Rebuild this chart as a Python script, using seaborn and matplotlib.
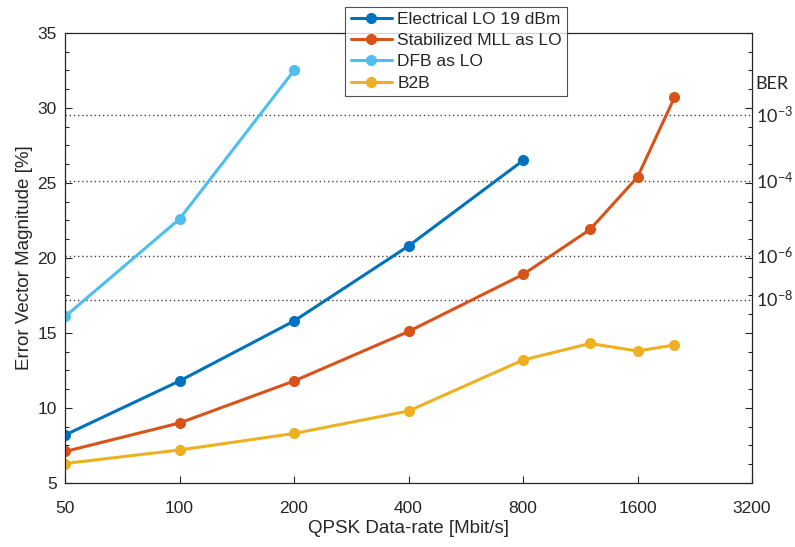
import numpy as np
import pandas as pd
import matplotlib
matplotlib.use("Agg")
import matplotlib.pyplot as plt
import matplotlib.ticker as mticker
import seaborn as sns

# Data
rate_short = [50, 100, 200, 400, 800]
rate_long = [50, 100, 200, 400, 800, 1200, 1600, 2000]
rate_dfb = [50, 100, 200]

evm_electrical = [8.2, 11.8, 15.8, 20.8, 26.5]
evm_mll = [7.1, 9.0, 11.8, 15.1, 18.9, 21.9, 25.4, 30.7]
evm_dfb = [16.1, 22.6, 32.5]
evm_b2b = [6.3, 7.2, 8.3, 9.8, 13.2, 14.3, 13.8, 14.2]

series_names = ["Electrical LO 19 dBm", "Stabilized MLL as LO", "DFB as LO", "B2B"]
colors = ["#0072BD", "#D95319", "#4DBEEE", "#EDB120"]

x_ticks = [50, 100, 200, 400, 800, 1600, 3200]

# BER thresholds (EVM value of each dotted line)
ber_evm = [29.5, 25.1, 20.1, 17.2]
ber_labels = [r"$\mathregular{10^{-3}}$", r"$\mathregular{10^{-4}}$",
              r"$\mathregular{10^{-6}}$", r"$\mathregular{10^{-8}}$"]


def main():
    rows = []
    for name, xs, ys in [
        (series_names[0], rate_short, evm_electrical),
        (series_names[1], rate_long, evm_mll),
        (series_names[2], rate_dfb, evm_dfb),
        (series_names[3], rate_long, evm_b2b),
    ]:
        for x, y in zip(xs, ys):
            rows.append({"rate": x, "evm": y, "series": name})
    df = pd.DataFrame(rows)

    sns.set_theme(style="ticks")
    plt.rcParams["font.family"] = ["Liberation Sans", "DejaVu Sans"]
    plt.rcParams["xtick.direction"] = "in"
    plt.rcParams["ytick.direction"] = "in"

    fig = plt.figure(figsize=(7.95, 5.47), dpi=100)
    ax = fig.add_axes([0.0818, 0.117, 0.8642, 0.8227])

    sns.lineplot(data=df, x="rate", y="evm", hue="series", hue_order=series_names,
                 palette=colors, marker="o", markersize=8, markeredgewidth=0,
                 linewidth=2.2, ax=ax, sort=False)

    ax.set_xscale("log", base=2)
    ax.set_xlim(50, 3200)
    ax.set_ylim(5, 35)
    ax.xaxis.set_major_locator(mticker.FixedLocator(x_ticks))
    ax.xaxis.set_major_formatter(mticker.FixedFormatter([str(t) for t in x_ticks]))
    ax.xaxis.set_minor_locator(mticker.NullLocator())
    ax.yaxis.set_major_locator(mticker.MultipleLocator(5))
    ax.yaxis.set_minor_locator(mticker.MultipleLocator(1.25))

    ax.tick_params(axis="both", which="major", labelsize=12.5, colors="#262626",
                   length=5, width=0.8, top=False, right=True)
    ax.tick_params(axis="x", which="major", pad=13)
    ax.tick_params(axis="y", which="major", pad=6)
    ax.tick_params(axis="y", which="minor", length=3, width=0.8, right=True)
    for s in ax.spines.values():
        s.set_color("#262626")
        s.set_linewidth(0.9)
        s.set_visible(True)

    ax.set_xlabel("QPSK Data-rate [Mbit/s]", fontsize=13.5, color="#262626", labelpad=3)
    ax.set_ylabel("Error Vector Magnitude [%]", fontsize=13.5, color="#262626", labelpad=3)

    # BER dotted reference lines and labels on the right
    ber_font = ["Lato", "DejaVu Sans"]
    for yv, lab in zip(ber_evm, ber_labels):
        ax.axhline(yv, color="#444444", linestyle=(0, (1, 2)), linewidth=1.0, zorder=1)
        ax.text(1.005, yv, lab, transform=ax.get_yaxis_transform(), fontsize=13,
                va="center", ha="left", family=ber_font, color="#262626")
    ax.text(1.005, 31.6, "BER", transform=ax.get_yaxis_transform(), fontsize=13,
            va="center", ha="left", family=ber_font, color="#262626")

    leg = ax.legend(loc="upper center", bbox_to_anchor=(0.574, 0.988),
                    bbox_transform=fig.transFigure, fontsize=12.5, frameon=True,
                    fancybox=False, handlelength=2.4, handletextpad=0.3,
                    borderpad=0.3, labelspacing=0.35, borderaxespad=0)
    leg.get_frame().set_edgecolor("#262626")
    leg.get_frame().set_linewidth(0.8)
    leg.set_zorder(10)

    fig.savefig("out.png", dpi=100)
    plt.close(fig)


if __name__ == "__main__":
    main()
